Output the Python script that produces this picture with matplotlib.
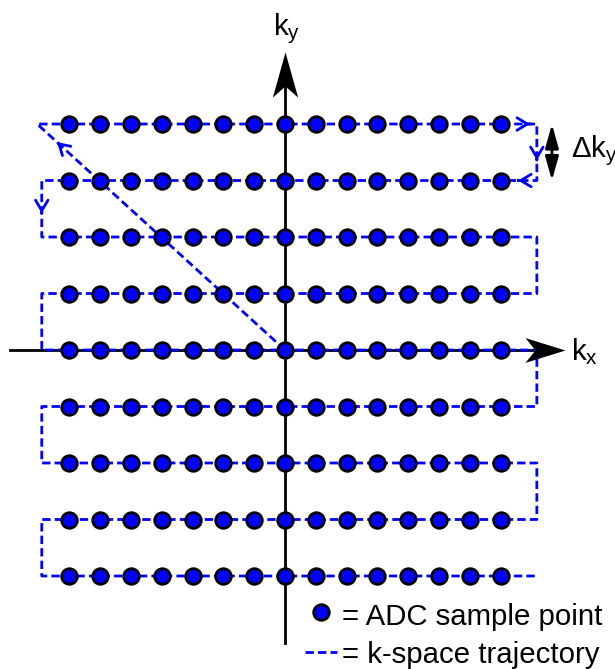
import numpy as np
import matplotlib
matplotlib.use('Agg')
import matplotlib.pyplot as plt
from matplotlib.path import Path

plt.rcParams['font.family'] = ['Liberation Sans', 'DejaVu Sans']
plt.rcParams['mathtext.fontset'] = 'custom'
plt.rcParams['mathtext.rm'] = 'Liberation Sans'
plt.rcParams['mathtext.it'] = 'Liberation Sans'

# == k-space sample grid == #
kx = np.arange(-7, 8)          # 15 readout samples per line
ky = np.arange(4, -5, -1)      # 9 phase-encode lines, top to bottom

# turn-around positions of the trajectory
x_start = -8.05
x_left = -7.9
x_right = 8.18

# arrow tips along the first part of the trajectory
diag_frac = 0.92
top_arrow_x = 7.96
right_down_y = 3.36
second_arrow_x = 7.57
left_down_y = 2.42

blue = '#0000ff'
traj_dash = (0, (3.0, 1.5))
fs = 21.2

fig = plt.figure(figsize=(6.15, 6.69), dpi=100)
ax = fig.add_axes([0, 0, 1, 1])
ax.set_xlim(-9.256, 10.718)
ax.set_ylim(-5.646, 6.195)
ax.axis('off')

# == Axes with notched arrow heads == #
x_tip, y_tip = 9.09, 5.27
ax.plot([-8.93, x_tip - 0.5], [0, 0], 'k-', lw=2, zorder=1)
ax.plot([0, 0], [-5.19, y_tip - 0.3], 'k-', lw=2, zorder=1)

head_r = Path([(0, 0), (-1, 0.31), (-0.75, 0), (-1, -0.31), (0, 0)],
              [Path.MOVETO, Path.LINETO, Path.LINETO, Path.LINETO, Path.CLOSEPOLY])
head_u = Path([(0, 0), (0.28, -1), (0, -0.75), (-0.28, -1), (0, 0)],
              [Path.MOVETO, Path.LINETO, Path.LINETO, Path.LINETO, Path.CLOSEPOLY])
ax.plot([x_tip], [0], marker=head_r, ms=57.6, color='k', mew=0, zorder=4)
ax.plot([0], [y_tip], marker=head_u, ms=65, color='k', mew=0, zorder=4)

ax.text(9.30, -0.18, r'$\mathrm{k_x}$', fontsize=fs, va='baseline', ha='left')
ax.text(-0.39, 5.575, r'$\mathrm{k_y}$', fontsize=fs, va='baseline', ha='left')

# == Raster trajectory == #
tx, ty = [0, x_start], [0, ky[0]]
for i, row in enumerate(ky):
    if i == 0:
        ends = (x_start, x_right)
    elif i % 2 == 0:
        ends = (x_left, x_right)
    else:
        ends = (x_right, x_left)
    if i > 0:
        tx.append(ends[0])
        ty.append(row)
    tx.append(ends[1])
    ty.append(row)
ax.plot(tx, ty, color=blue, lw=2, ls=traj_dash, zorder=2)

def chevron(tip, direction):
    tail = (tip[0] - 0.01 * direction[0], tip[1] - 0.01 * direction[1])
    ax.annotate('', xy=tip, xytext=tail,
                arrowprops=dict(arrowstyle='->,head_length=0.5,head_width=0.3',
                                color=blue, lw=2, shrinkA=0, shrinkB=0,
                                mutation_scale=15),
                zorder=3)

chevron((diag_frac * x_start, diag_frac * ky[0]), (x_start, ky[0]))
chevron((top_arrow_x, ky[0]), (1, 0))
chevron((x_right, right_down_y), (0, -1))
chevron((second_arrow_x, ky[1]), (-1, 0))
chevron((x_left, left_down_y), (0, -1))

# == ADC sample points == #
gx, gy = np.meshgrid(kx, ky)
ax.plot(gx.ravel(), gy.ravel(), 'o', ms=11.2, mfc=blue, mec='k', mew=2,
        ls='none', zorder=5)

# == Delta k_y marker == #
ax.annotate('', xy=(8.67, ky[1]), xytext=(8.67, ky[0]),
            arrowprops=dict(arrowstyle='<|-|>,head_length=0.72,head_width=0.2',
                            color='k', lw=2, shrinkA=0, shrinkB=0,
                            mutation_scale=20))
ax.text(9.30, 3.416, r'$\mathrm{\Delta k_y}$', fontsize=fs, va='baseline', ha='left')

# == Key == #
ax.plot([1.17], [-4.64], 'o', ms=11.2, mfc=blue, mec='k', mew=2, zorder=5)
ax.text(1.85, -4.87, '= ADC sample point', fontsize=fs, va='baseline', ha='left')
ax.plot([0.65, 1.69], [-5.35, -5.35], color=blue, lw=2, ls=traj_dash)
ax.text(1.85, -5.54, '= k-space trajectory', fontsize=fs, va='baseline', ha='left')

fig.savefig('out.png', dpi=100)
